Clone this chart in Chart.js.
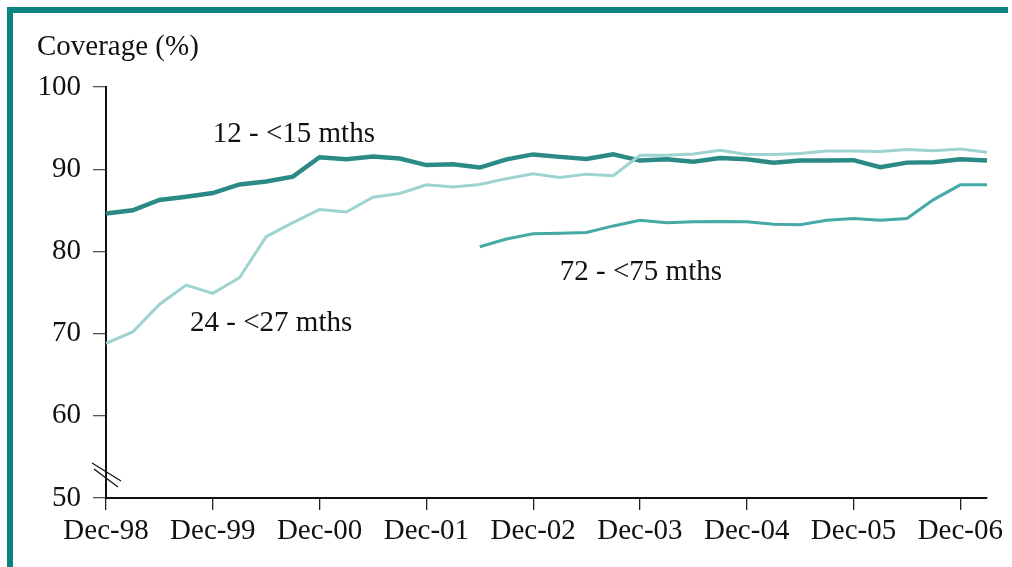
<!DOCTYPE html>
<html>
<head>
<meta charset="utf-8">
<script src="https://cdn.jsdelivr.net/npm/chart.js@4/dist/chart.umd.min.js"></script>
<style>
  html, body { margin: 0; padding: 0; background: #fff; }
  #wrap { position: relative; width: 1012px; height: 567px; overflow: hidden; }
  #frame { position: absolute; left: 7px; top: 7px; width: 995px; height: 600px;
           border-top: 6px solid #0a847f; border-left: 6px solid #0a847f; pointer-events: none; }
  canvas { position: absolute; left: 0; top: 0; }
</style>
</head>
<body>
<div id="wrap">
  <canvas id="c" width="1012" height="567"></canvas>
  <div id="frame"></div>
</div>
<script>
// Quarterly categories, Dec-98 .. Mar-07
const categories = ['Dec-98','Mar-99','Jun-99','Sep-99','Dec-99','Mar-00','Jun-00','Sep-00',
  'Dec-00','Mar-01','Jun-01','Sep-01','Dec-01','Mar-02','Jun-02','Sep-02',
  'Dec-02','Mar-03','Jun-03','Sep-03','Dec-03','Mar-04','Jun-04','Sep-04',
  'Dec-04','Mar-05','Jun-05','Sep-05','Dec-05','Mar-06','Jun-06','Sep-06',
  'Dec-06','Mar-07'];

const yTicks = [50, 60, 70, 80, 90, 100];

const months12to15 = [84.6, 85.0, 86.25, 86.65, 87.1, 88.15, 88.5, 89.1,
  91.45, 91.2, 91.55, 91.3, 90.5, 90.6, 90.2, 91.2,
  91.8, 91.5, 91.25, 91.8, 91.05, 91.2, 90.9, 91.35,
  91.2, 90.8, 91.05, 91.05, 91.1, 90.25, 90.8, 90.85,
  91.2, 91.05];

const months24to27 = [68.8, 70.2, 73.55, 75.9, 74.9, 76.8, 81.8, 83.5,
  85.1, 84.8, 86.6, 87.05, 88.1, 87.85, 88.15, 88.85,
  89.45, 89.0, 89.4, 89.2, 91.7, 91.7, 91.85, 92.3,
  91.8, 91.8, 91.9, 92.2, 92.2, 92.15, 92.4, 92.25,
  92.45, 92.05];

const months72to75 = [null, null, null, null, null, null, null, null,
  null, null, null, null, null, null, 80.57, 81.5,
  82.15, 82.2, 82.3, 83.1, 83.8, 83.5, 83.6, 83.65,
  83.6, 83.3, 83.25, 83.8, 84.0, 83.8, 84.0, 86.3,
  88.1, 88.1];

const seriesNames = ['12 - <15 mths', '24 - <27 mths', '72 - <75 mths'];
const yTitle = 'Coverage (%)';

const FONT = '"Liberation Serif", "Times New Roman", serif';
const FSIZE = 29;

// annotation anchors (category index, value) for the series names
const annotations = [
  { text: seriesNames[0], x: 4, y: 94.2 },
  { text: seriesNames[1], x: 3.15, y: 71.3 },
  { text: seriesNames[2], x: 17.0, y: 77.4 }
];

const extrasPlugin = {
  id: 'extras',
  afterDraw(chart) {
    const ctx = chart.ctx;
    const xs = chart.scales.x, ys = chart.scales.y;
    ctx.save();
    ctx.fillStyle = '#111';
    ctx.font = FSIZE + 'px ' + FONT;
    ctx.textBaseline = 'middle';
    ctx.textAlign = 'left';
    // y-axis title
    ctx.fillText(yTitle, 37, 47);
    // series labels
    const step = xs.getPixelForValue(1) - xs.getPixelForValue(0);
    annotations.forEach(a => {
      const px = xs.getPixelForValue(0) + a.x * step;
      ctx.fillText(a.text, px, ys.getPixelForValue(a.y));
    });
    // axis break marks
    const bx = xs.left, by = ys.getPixelForValue(52.8);
    ctx.strokeStyle = '#111';
    ctx.lineWidth = 1.3;
    ctx.beginPath();
    ctx.moveTo(bx - 14, by - 12); ctx.lineTo(bx + 15, by + 6);
    ctx.moveTo(bx - 12, by - 6); ctx.lineTo(bx + 12, by + 12);
    ctx.stroke();
    ctx.restore();
  }
};

new Chart(document.getElementById('c'), {
  type: 'line',
  data: {
    labels: categories,
    datasets: [
      { label: seriesNames[1], data: months24to27, borderColor: '#9dd3d0', borderWidth: 3,
        pointRadius: 0, tension: 0 },
      { label: seriesNames[2], data: months72to75, borderColor: '#45a9a6', borderWidth: 3,
        pointRadius: 0, tension: 0, spanGaps: false },
      { label: seriesNames[0], data: months12to15, borderColor: '#2b8a86', borderWidth: 4.5,
        pointRadius: 0, tension: 0 }
    ]
  },
  options: {
    responsive: false,
    animation: false,
    devicePixelRatio: 1,
    layout: { padding: { top: 87, right: 25, left: 0, bottom: 0 } },
    plugins: { legend: { display: false }, tooltip: { enabled: false } },
    scales: {
      x: {
        type: 'category',
        offset: false,
        afterFit(s) { s.height = 69; },
        border: { display: true, color: '#111', width: 2 },
        grid: {
          drawOnChartArea: false, drawTicks: true, tickLength: 12, offset: false,
          color: c => (c.index % 4 === 0 ? '#222' : 'rgba(0,0,0,0)'), lineWidth: 1.3
        },
        ticks: {
          autoSkip: false, maxRotation: 0, minRotation: 0, padding: 4,
          color: '#111', font: { family: FONT, size: FSIZE },
          callback(value, index) { return index % 4 === 0 ? this.getLabelForValue(value) : ''; }
        }
      },
      y: {
        min: yTicks[0], max: yTicks[yTicks.length - 1],
        afterFit(s) { s.width = 106; },
        afterBuildTicks(s) { s.ticks = yTicks.map(v => ({ value: v })); },
        border: { display: true, color: '#111', width: 2 },
        grid: { drawOnChartArea: false, drawTicks: true, tickLength: 13, color: '#555', lineWidth: 1.3 },
        ticks: { padding: 12, color: '#111', font: { family: FONT, size: FSIZE } }
      }
    }
  },
  plugins: [extrasPlugin]
});
</script>
</body>
</html>
